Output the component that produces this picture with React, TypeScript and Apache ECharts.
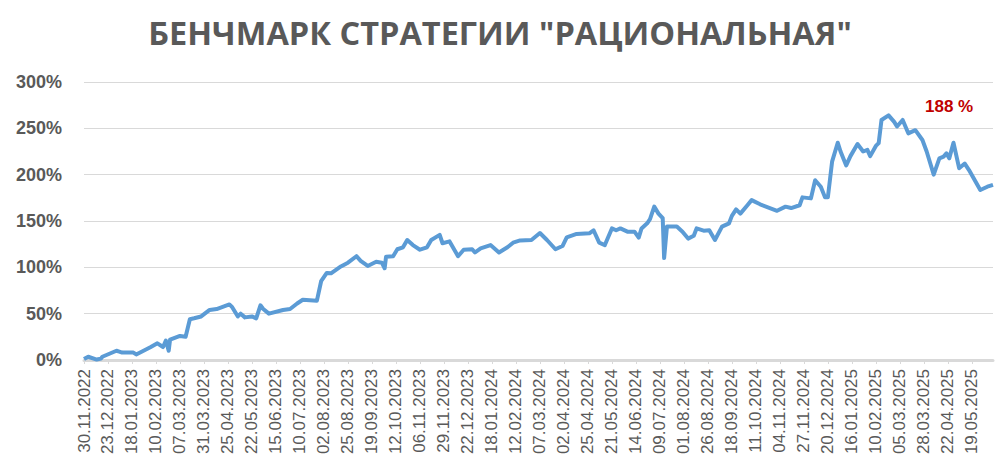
import React, { useEffect, useRef } from "react";
import * as echarts from "echarts";

const TITLE = 'БЕНЧМАРК СТРАТЕГИИ "РАЦИОНАЛЬНАЯ"';
const FINAL_LABEL = "188 %";

// x-axis tick labels, one every 17 trading days
const DATE_LABELS = [
  "30.11.2022", "23.12.2022", "18.01.2023", "10.02.2023", "07.03.2023", "31.03.2023",
  "25.04.2023", "22.05.2023", "15.06.2023", "10.07.2023", "02.08.2023", "25.08.2023",
  "19.09.2023", "12.10.2023", "06.11.2023", "29.11.2023", "22.12.2023", "18.01.2024",
  "12.02.2024", "07.03.2024", "02.04.2024", "25.04.2024", "21.05.2024", "14.06.2024",
  "09.07.2024", "01.08.2024", "26.08.2024", "18.09.2024", "11.10.2024", "04.11.2024",
  "27.11.2024", "20.12.2024", "16.01.2025", "10.02.2025", "05.03.2025", "28.03.2025",
  "22.04.2025", "19.05.2025",
];
const LABEL_STEP = 17;
const LAST_DAY = 644;

// trading-day index of each read point
const DAY_INDEX = [
  0, 3, 9, 12, 13, 23, 25, 27, 35, 37, 47, 52, 56, 58, 60, 61, 68, 72, 75, 78,
  83, 89, 94, 103, 105, 109, 111, 114, 119, 122, 125, 127, 131, 141, 146, 151, 155, 165, 168, 172,
  175, 182, 187, 193, 196, 201, 207, 211, 213, 214, 219, 222, 226, 229, 233, 238, 243, 246, 252, 254,
  259, 265, 269, 275, 277, 281, 288, 294, 300, 304, 309, 317, 323, 328, 334, 339, 342, 349, 358, 361,
  365, 369, 374, 377, 380, 385, 390, 393, 395, 399, 401, 404, 407, 410, 411, 413, 420, 424, 428, 432,
  434, 439, 443, 447, 452, 457, 459, 462, 465, 470, 473, 479, 491, 497, 501, 507, 509, 515, 518, 522,
  525, 527, 530, 534, 536, 540, 543, 548, 552, 555, 557, 561, 563, 565, 570, 574, 576, 580, 584, 589,
  594, 597, 602, 606, 609, 611, 613, 616, 620, 624, 627, 635, 640, 644,
];

// cumulative return, %
const RETURN_PCT = [
  1, 3.5, 0.5, 1.5, 3.5, 10, 9, 8, 8, 6, 13.7, 18, 14, 21, 10, 22, 26, 25, 44, 45,
  47, 54, 55, 60, 57, 47, 50, 46, 47, 45, 59, 55, 50, 54, 55, 61, 65, 64, 85, 94,
  93.5, 101, 105, 112, 107, 101.5, 106, 105, 99, 111.5, 112, 119.5, 121.6, 129.5, 124, 119, 121.6, 129.5, 135, 126,
  128, 112, 119, 119.6, 116, 120.5, 124, 116, 121.6, 126.6, 129, 129.5, 137, 129.5, 119.5, 123, 132.4, 136, 136.7, 140,
  126.6, 124, 142, 140, 142, 138.5, 138.5, 132, 142, 147.5, 152, 165.5, 158, 153, 110, 144, 144, 138.5, 131, 134,
  142, 139.6, 140, 129.5, 144, 147.5, 155.5, 162.6, 158, 167, 172.5, 168, 161, 165.5, 164, 167, 175.5, 174.4, 194, 187,
  175.5, 175.5, 214, 234.5, 225, 210, 220, 233, 225, 226.7, 220, 231, 234, 259, 264, 257, 252, 259, 244.6, 248,
  237.4, 225, 200, 217.6, 219.5, 223, 217.6, 234.5, 207, 212, 205, 183.5, 187, 189,
];

const Y_MIN = 0;
const Y_MAX = 300;
const Y_STEP = 50;

export default function App() {
  const ref = useRef<HTMLDivElement>(null);

  useEffect(() => {
    document.body.style.margin = "0";
    if (!ref.current) return;
    const chart = echarts.init(ref.current, null, { renderer: "svg" });
    const data = DAY_INDEX.map((d, i) => [d, RETURN_PCT[i]]);
    chart.setOption({
      animation: false,
      backgroundColor: "#ffffff",
      title: {
        text: TITLE,
        left: "center",
        top: 11,
        textStyle: {
          fontFamily: "Open Sans",
          fontWeight: "bold",
          fontSize: 32.5,
          color: "#595959",
        },
      },
      grid: { left: 84, right: 7, top: 82, bottom: 107 },
      xAxis: {
        type: "value",
        min: 0,
        max: LAST_DAY,
        interval: LABEL_STEP,
        splitLine: { show: false },
        axisLine: { show: true, onZero: false, lineStyle: { color: "#d9d9d9", width: 3 } },
        axisTick: { show: true, length: 4, lineStyle: { color: "#d9d9d9" } },
        axisLabel: {
          rotate: 90,
          margin: 9,
          fontFamily: "Liberation Sans",
          fontSize: 17,
          color: "#595959",
          showMaxLabel: false,
          formatter: (v: number) =>
            v % LABEL_STEP === 0 && DATE_LABELS[v / LABEL_STEP] ? DATE_LABELS[v / LABEL_STEP] : "",
        },
      },
      yAxis: {
        type: "value",
        min: Y_MIN,
        max: Y_MAX,
        interval: Y_STEP,
        axisLine: { show: false },
        axisTick: { show: false },
        splitLine: { lineStyle: { color: "#d9d9d9", width: 1 } },
        axisLabel: {
          margin: 22,
          fontFamily: "Liberation Sans",
          fontWeight: "bold",
          fontSize: 18,
          color: "#595959",
          formatter: "{value}%",
        },
      },
      series: [
        {
          type: "line",
          data,
          showSymbol: false,
          lineStyle: { color: "#5b9bd5", width: 4, join: "round" },
          z: 3,
        },
      ],
      graphic: [
        {
          type: "text",
          left: 925,
          top: 98,
          style: {
            text: FINAL_LABEL,
            fontFamily: "Liberation Sans",
            fontWeight: "bold",
            fontSize: 17,
            fill: "#c00000",
          },
        },
      ],
    });
    return () => chart.dispose();
  }, []);

  return <div ref={ref} style={{ width: 1000, height: 467 }} />;
}
